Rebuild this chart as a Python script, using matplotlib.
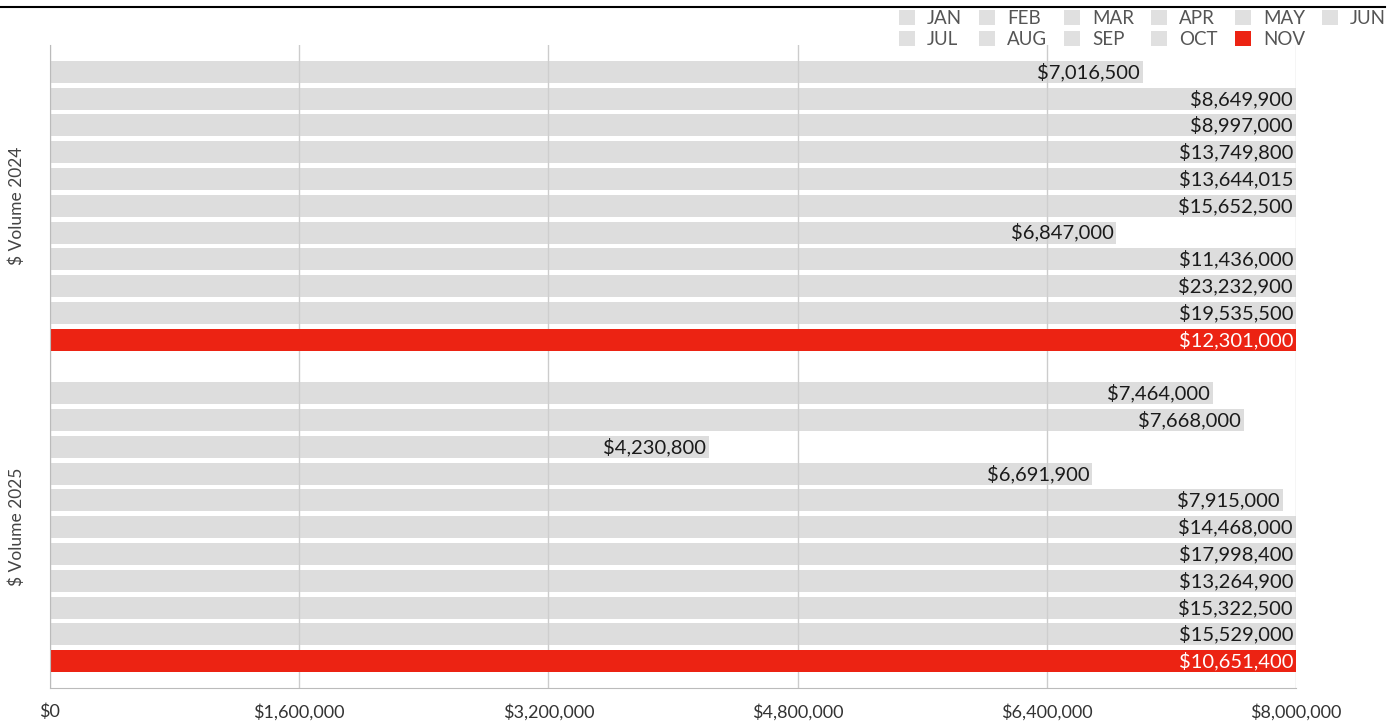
import numpy as np
import matplotlib.pyplot as plt
from matplotlib.patches import Patch
from matplotlib.lines import Line2D

plt.rcParams['font.family'] = ['Lato', 'DejaVu Sans']

# --- données ---
mois = ["JAN", "FEB", "MAR", "APR", "MAY", "JUN", "JUL", "AUG", "SEP", "OCT", "NOV"]
groupes = ["$ Volume 2024", "$ Volume 2025"]
volume_2024 = [7016500, 8649900, 8997000, 13749800, 13644015, 15652500,
               6847000, 11436000, 23232900, 19535500, 12301000]
volume_2025 = [7464000, 7668000, 4230800, 6691900, 7915000, 14468000,
               17998400, 13264900, 15322500, 15529000, 10651400]
x_ticks = [0, 1600000, 3200000, 4800000, 6400000, 8000000]
x_max = 8000000

gris = '#cfcfcf'
rouge = '#ec2313'

fig = plt.figure(figsize=(13.95, 7.23), dpi=100)
ax = fig.add_axes([50/1395, 1 - 688/723, 1246/1395, 643/723])

series = [volume_2024, volume_2025]
for i, m_ in enumerate(mois):
    couleur = rouge if m_ == "NOV" else gris
    alpha = 1.0 if m_ == "NOV" else 0.7
    ys = [g * 12 + 1 + i for g in range(len(groupes))]
    vals = [series[g][i] for g in range(len(groupes))]
    ax.barh(ys, vals, height=0.82, color=couleur, alpha=alpha, zorder=2)
    for y, v in zip(ys, vals):
        ax.annotate(f"${v:,.0f}", xy=(min(v, x_max), y), xytext=(-3, 0),
                    textcoords='offset pixels', ha='right', va='center',
                    fontsize=14.5, color='white' if m_ == "NOV" else '#1a1a1a',
                    zorder=3)

ax.set_xlim(0, x_max)
ax.set_ylim(24, 0)
ax.set_xticks(x_ticks)
ax.set_xticklabels([f"${t:,.0f}" for t in x_ticks], fontsize=13, color='#333333')
ax.set_yticks([6, 18])
ax.set_yticklabels(groupes, rotation=90, va='center', fontsize=12.5, color='#444444')
ax.tick_params(axis='both', length=0)
ax.tick_params(axis='x', pad=11)
ax.tick_params(axis='y', pad=18)
ax.grid(axis='x', color='#cccccc', linewidth=1, zorder=1)
ax.set_axisbelow(True)
for s in ['top', 'right']:
    ax.spines[s].set_visible(False)
for s in ['left', 'bottom']:
    ax.spines[s].set_color('#bbbbbb')

# légende, remplie ligne par ligne
handles = [Patch(facecolor=rouge if m_ == "NOV" else '#e0e0e0', edgecolor='none') for m_ in mois]
ordre = [0, 6, 1, 7, 2, 8, 3, 9, 4, 10, 5]
leg = fig.legend([handles[k] for k in ordre], [mois[k] for k in ordre], ncol=6,
                 loc='upper right', bbox_to_anchor=(1386/1395, 1 - 10/723), frameon=False,
                 fontsize=13.5, handlelength=0.85, handleheight=0.85, handletextpad=0.65,
                 columnspacing=0.9, labelspacing=0.22, borderaxespad=0, borderpad=0)
for t in leg.get_texts():
    t.set_color('#555555')

fig.add_artist(Line2D([0, 1385/1395], [1 - 7/723, 1 - 7/723], color='black', linewidth=1.5))

fig.savefig("out.png", dpi=100)
